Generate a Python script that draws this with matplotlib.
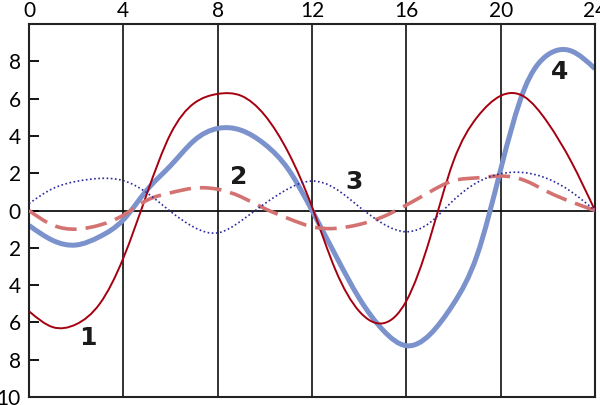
import matplotlib
matplotlib.use("Agg")
import numpy as np
import matplotlib.pyplot as plt
from matplotlib.path import Path
from matplotlib.patches import PathPatch

plt.rcParams['font.family'] = ['Lato', 'DejaVu Sans']

hours = list(range(25))
series1 = [-5.4, -6.25, -6.1, -5.0, -2.55, 0.9, 4.1, 5.75, 6.25, 6.15, 5.1, 3.1, 0.2,
           -3.2, -5.4, -6.05, -4.85, -1.5, 2.65, 5.0, 6.15, 6.1, 4.7, 2.6, 0.0]
series2 = [0.0, -0.78, -1.0, -0.78, -0.25, 0.55, 0.95, 1.2, 1.14, 0.73, 0.1, -0.43, -0.87,
           -0.96, -0.75, -0.34, 0.29, 1.0, 1.6, 1.75, 1.85, 1.62, 1.0, 0.46, 0.0]
series3 = [0.37, 1.17, 1.56, 1.72, 1.6, 0.95, -0.05, -0.9, -1.2, -0.55, 0.37, 1.17, 1.58,
           1.17, 0.2, -0.7, -1.14, -0.65, 0.55, 1.5, 1.97, 2.03, 1.7, 1.0, 0.0]
series4 = [-0.8, -1.6, -1.85, -1.4, -0.5, 1.1, 2.4, 3.75, 4.4, 4.3, 3.55, 2.2, 0.0,
           -2.4, -4.7, -6.4, -7.25, -6.65, -5.0, -2.4, 2.2, 6.5, 8.35, 8.55, 7.6]

x_ticks = [0, 4, 8, 12, 16, 20, 24]
y_ticks = [8, 6, 4, 2, 0, -2, -4, -6, -8, -10]
y_tick_labels = ['8', '6', '4', '2', '0', '2', '4', '6', '8', '10']

labels = ['1', '2', '3', '4']
label_x = [2.5, 8.9, 13.8, 22.5]
label_y = [-6.85, 1.8, 1.55, 7.45]


def spline_path(xs, ys):
    """Natural cubic spline through the points, drawn as Bezier segments."""
    x = np.asarray(xs, float)
    y = np.asarray(ys, float)
    n = len(x)
    h = np.diff(x)
    A = np.zeros((n, n))
    b = np.zeros(n)
    A[0, 0] = A[-1, -1] = 1.0
    for i in range(1, n - 1):
        A[i, i - 1] = h[i - 1]
        A[i, i] = 2 * (h[i - 1] + h[i])
        A[i, i + 1] = h[i]
        b[i] = 6 * ((y[i + 1] - y[i]) / h[i] - (y[i] - y[i - 1]) / h[i - 1])
    M = np.linalg.solve(A, b)
    d = np.zeros(n)
    for i in range(n - 1):
        d[i] = (y[i + 1] - y[i]) / h[i] - h[i] * (2 * M[i] + M[i + 1]) / 6
    d[-1] = (y[-1] - y[-2]) / h[-1] + h[-1] * (M[-2] + 2 * M[-1]) / 6
    verts = [(x[0], y[0])]
    codes = [Path.MOVETO]
    for i in range(n - 1):
        verts += [(x[i] + h[i] / 3, y[i] + d[i] * h[i] / 3),
                  (x[i + 1] - h[i] / 3, y[i + 1] - d[i + 1] * h[i] / 3),
                  (x[i + 1], y[i + 1])]
        codes += [Path.CURVE4] * 3
    return Path(verts, codes)


fig = plt.figure(figsize=(6.0, 4.05), dpi=100)
ax = fig.add_axes([29 / 600, 8 / 405, 566 / 600, 373 / 405])
ax.set_xlim(0, 24)
ax.set_ylim(-10, 10)

for xv in x_ticks[1:-1]:
    ax.axvline(xv, color='#222222', lw=1.3, zorder=1)
ax.axhline(0, color='#111111', lw=1.3, zorder=1)

styles = [
    (series4, dict(edgecolor='#7b92cc', lw=3.6, zorder=2)),
    (series1, dict(edgecolor='#a50010', lw=1.4, zorder=3)),
    (series2, dict(edgecolor='#d47272', lw=2.6, linestyle=(0, (6, 2.5)), zorder=4)),
    (series3, dict(edgecolor='#2a2a9c', lw=1.2, linestyle=(0, (1, 1.5)), zorder=5)),
]
for ys, st in styles:
    ax.add_patch(PathPatch(spline_path(hours, ys), fill=False, **st))

for t, lx, ly in zip(labels, label_x, label_y):
    ax.text(lx, ly, t, fontsize=18, fontweight='bold', color='#1a1a1a',
            family=['DejaVu Sans'], ha='center', va='center', zorder=6)

ax.xaxis.tick_top()
ax.set_xticks(x_ticks)
ax.set_xticklabels([str(v) for v in x_ticks])
ax.tick_params(axis='x', length=0, pad=2, labelsize=15)
ax.set_yticks(y_ticks)
ax.set_yticklabels(y_tick_labels)
ax.tick_params(axis='y', direction='in', length=7, width=1.3, pad=6, labelsize=15)

for s in ax.spines.values():
    s.set_linewidth(1.5)
    s.set_color('#222222')

fig.savefig('out.png', dpi=100)
